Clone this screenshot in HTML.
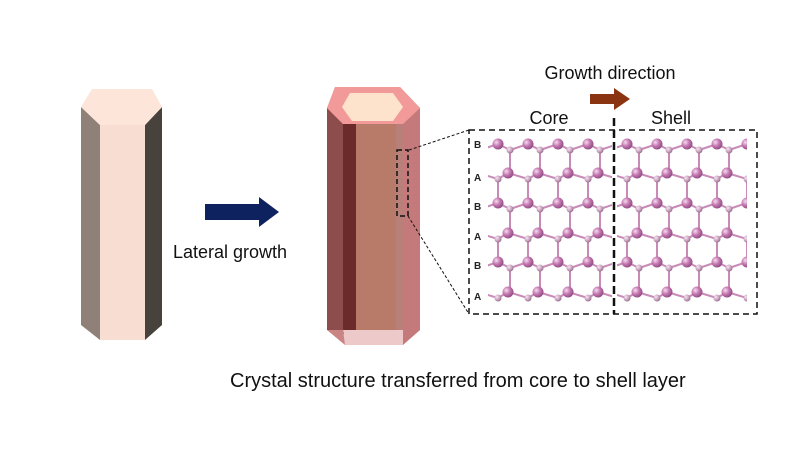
<!DOCTYPE html>
<html><head><meta charset="utf-8"><style>
body{margin:0;background:#fff;width:800px;height:450px;overflow:hidden}
text{font-family:"Liberation Sans",Arial,sans-serif}
</style></head><body>
<svg id="s" width="800" height="450" viewBox="0 0 800 450" xmlns="http://www.w3.org/2000/svg">
<defs>
<radialGradient id="gl" cx="0.35" cy="0.35" r="0.7"><stop offset="0" stop-color="#f6dcf0"/><stop offset="0.5" stop-color="#c477b0"/><stop offset="1" stop-color="#8d4a80"/></radialGradient>
<radialGradient id="gs" cx="0.35" cy="0.35" r="0.7"><stop offset="0" stop-color="#f3e6f0"/><stop offset="0.6" stop-color="#c8a0bd"/><stop offset="1" stop-color="#8e6a86"/></radialGradient>
<clipPath id="c0"><rect x="488" y="132" width="124" height="180"/></clipPath>
<clipPath id="c1"><rect x="617" y="132" width="130" height="180"/></clipPath>
</defs>
<!-- left prism -->
<polygon points="81,107 100,125 100,340 81,325" fill="#8f8078"/>
<polygon points="162,107 145,125 145,340 162,325" fill="#48423d"/>
<rect x="100" y="125" width="45" height="215" fill="#f8ddd2"/>
<polygon points="92,89 152,89 162,107 145,125 100,125 81,107" fill="#fde5d9"/>
<!-- middle prism -->
<polygon points="335,87 400,87 420,108 420,330 402,345 345,345 327,330 327,108" fill="#c98484"/>
<polygon points="327,108 343,124 343,330 327,330" fill="#8d4d4d"/>
<rect x="343" y="124" width="13" height="210" fill="#6c2b2b"/>
<rect x="356" y="124" width="42" height="210" fill="#b97b69"/>
<rect x="396" y="124" width="7" height="210" fill="#b98079"/>
<polygon points="403,124 420,108 420,330 403,345" fill="#c47a7a"/>
<polygon points="343,330 403,330 403,345 345,345" fill="#eec9c9"/>
<polygon points="335,87 400,87 420,108 403,124 343,124 327,108" fill="#f29a9a"/>
<polygon points="350,93 393,93 403,107 393,121 352,121 342,107" fill="#fde3cc"/>
<!-- zoom rect -->
<rect x="397" y="150" width="11" height="66" fill="none" stroke="#111" stroke-width="1.5" stroke-dasharray="5,3"/>
<line x1="409" y1="150" x2="469" y2="130" stroke="#111" stroke-dasharray="3,2"/>
<line x1="408" y1="216" x2="469" y2="314" stroke="#111" stroke-dasharray="3,2"/>
<!-- blue arrow -->
<polygon points="205,204 259,204 259,197 279,212 259,227 259,220 205,220" fill="#0f2260"/>
<text x="173" y="258" font-size="18" fill="#111">Lateral growth</text>
<!-- brown arrow -->
<polygon points="590,94 614,94 614,88 630,99 614,110 614,104 590,104" fill="#8a3412"/>
<text x="610" y="79" font-size="18" text-anchor="middle" fill="#111">Growth direction</text>
<text x="549" y="124" font-size="18" text-anchor="middle" fill="#111">Core</text>
<text x="671" y="124" font-size="18" text-anchor="middle" fill="#111">Shell</text>
<g id="lat0" clip-path="url(#c0)"></g>
<g id="lat1" clip-path="url(#c1)"></g>
<rect x="469" y="130" width="288" height="184" fill="none" stroke="#111" stroke-width="1.5" stroke-dasharray="6,4"/>
<line x1="614" y1="118" x2="614" y2="314" stroke="#111" stroke-width="2.5" stroke-dasharray="8,4"/>
<text x="230" y="387" font-size="20" fill="#111">Crystal structure transferred from core to shell layer</text>
<g font-size="10" font-weight="bold" fill="#222">
<text x="474" y="148">B</text><text x="474" y="181">A</text><text x="474" y="210">B</text><text x="474" y="240">A</text><text x="474" y="269">B</text><text x="474" y="300">A</text>
</g>
</svg>
<script>
var ns='http://www.w3.org/2000/svg';
var rows=[144,173,203,233,262,292];
[[498,'lat0'],[627,'lat1']].forEach(function(p){
 var x0=p[0],b='',a='';
 function L(x1,y1,x2,y2){b+='<line x1="'+x1+'" y1="'+y1+'" x2="'+x2+'" y2="'+y2+'" stroke="#c98ab8" stroke-width="2"/>';}
 rows.forEach(function(y,i){
  var isB=i%2==0, off=isB?0:10, soff=isB?12:0;
  for(var k=-1;k<5;k++){
   var lx=x0+off+k*30, sx=x0+soff+k*30;
   a+='<circle cx="'+lx+'" cy="'+y+'" r="5.5" fill="url(#gl)"/>';
   a+='<circle cx="'+sx+'" cy="'+(y+6)+'" r="3.5" fill="url(#gs)"/>';
   if(i<5)L(sx,y+6,sx,rows[i+1]);
   if(isB){L(lx,y,lx+12,y+6);L(lx,y,lx-18,y+6);}
   else{L(lx,y,lx-10,y+6);L(lx,y,lx+20,y+6);}
  }
 });
 var tmp=new DOMParser().parseFromString('<svg xmlns="'+ns+'">'+b+a+'</svg>','image/svg+xml').documentElement;
 var g=document.getElementById(p[1]);
 while(tmp.firstChild){g.appendChild(document.importNode(tmp.firstChild,true));tmp.removeChild(tmp.firstChild);}
});
</script>
</body></html>
